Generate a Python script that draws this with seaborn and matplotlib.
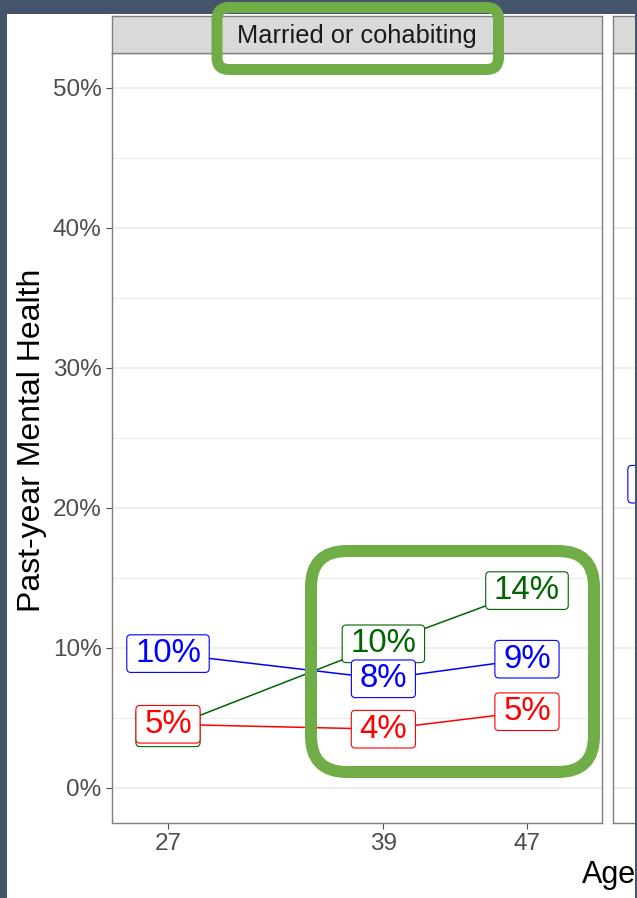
import matplotlib
matplotlib.use("Agg")
import matplotlib.pyplot as plt
from matplotlib.patches import FancyBboxPatch, Rectangle, BoxStyle
from matplotlib.transforms import IdentityTransform
import seaborn as sns
import pandas as pd

# ---------------- data ----------------
ages = [27, 39, 47]
blue_vals = [9.6, 7.8, 9.2]
red_vals = [4.55, 4.2, 5.45]
green_vals = [4.3, 10.3, 14.1]
panel2_ages = [27]
panel2_blue = [21.7]
y_ticks = [0, 10, 20, 30, 40, 50]
panel_titles = ["Married or cohabiting", ""]

series_colors = {"blue": "#0000ff", "red": "#ff0000", "green": "#006400"}

df1 = pd.DataFrame({
    "age": ages * 3,
    "pct": blue_vals + red_vals + green_vals,
    "series": ["blue"] * 3 + ["red"] * 3 + ["green"] * 3,
})
df2 = pd.DataFrame({"age": panel2_ages, "pct": panel2_blue, "series": ["blue"]})

sns.set_style("white")
plt.rcParams["font.family"] = ["Liberation Sans", "DejaVu Sans"]

W, H = 637, 898
DARK = "#44546a"
fig = plt.figure(figsize=(W / 100, H / 100), dpi=100)
fig.patch.set_facecolor(DARK)

# white slide area
fig.add_artist(Rectangle((7 / W, 0), (635 - 7) / W, (H - 14) / H,
                         transform=fig.transFigure, facecolor="white",
                         edgecolor="none", zorder=0))

BORDER = "#7f7f7f"


def label_style(padx, pady, r):
    base = BoxStyle.Round(pad=0, rounding_size=r)

    def f(x0, y0, width, height, mutation_size):
        px = padx * mutation_size
        py = pady * mutation_size
        return base(x0 - px, y0 - py, width + 2 * px, height + 2 * py, mutation_size)
    return f


def make_panel(left_px, data, title, show_xlabels=True):
    ax = fig.add_axes([left_px / W, (H - 823) / H, 490 / W, 770 / H])
    ax.set_xlim(23.88, 51.18)
    ax.set_ylim(-2.5, 52.5)
    for y in range(0, 55, 5):
        ax.axhline(y, color="#ebebeb", lw=1.2 if y % 10 == 0 else 0.7, zorder=0)
    sns.lineplot(data=data, x="age", y="pct", hue="series", palette=series_colors,
                 ax=ax, legend=False, linewidth=1.1, sort=True, zorder=2)
    order = ["green", "blue", "red"]
    for i, s in enumerate(order):
        sub = data[data["series"] == s]
        for a, v in zip(sub["age"], sub["pct"]):
            ax.text(a, v, f"{round(v):.0f}%", color=series_colors[s], fontsize=23.8,
                    ha="center", va="center", zorder=3 + i,
                    bbox=dict(boxstyle=label_style(0.25, 0.10, 0.12), facecolor="white",
                              edgecolor=series_colors[s], linewidth=0.8))
    ax.set_xticks(ages)
    ax.set_xticklabels([str(a) for a in ages] if show_xlabels else [])
    ax.set_yticks(y_ticks)
    ax.set_yticklabels([f"{t}%" for t in y_ticks])
    ax.tick_params(axis="both", which="major", length=4, width=0.8, color="#4d4d4d",
                   labelsize=17.5, labelcolor="#4d4d4d", pad=3.5, left=True, bottom=True)
    ax.set_xlabel("")
    ax.set_ylabel("")
    for sp in ax.spines.values():
        sp.set_color(BORDER)
        sp.set_linewidth(1.0)
        sp.set_visible(True)
    # strip
    sax = fig.add_axes([left_px / W, (H - 53) / H, 490 / W, 37 / H])
    sax.set_facecolor("#d9d9d9")
    sax.set_xticks([])
    sax.set_yticks([])
    for sp in sax.spines.values():
        sp.set_color(BORDER)
        sp.set_linewidth(1.0)
    sax.text(0.5, 0.47, title, transform=sax.transAxes, ha="center", va="center",
             fontsize=18.3, color="#1a1a1a")
    return ax


ax1 = make_panel(112, df1, panel_titles[0])
ax2 = make_panel(613, df2, panel_titles[1], show_xlabels=False)
ax2.set_yticklabels([])
ax2.tick_params(axis="y", length=0)

# axis titles
fig.text(32.5 / W, 1 - 440 / H, "Past-year Mental Health", rotation=90,
         ha="center", va="center", fontsize=23, color="black")
fig.text(582 / W, 1 - 883 / H, "Age", ha="left", va="baseline",
         fontsize=22, color="black")

# right dark slide edge on top
fig.add_artist(Rectangle((635 / W, 0), 2 / W, 1, transform=fig.transFigure,
                         facecolor=DARK, edgecolor="none", zorder=20))

# green highlight boxes (pixel coordinates, y from top)
GREEN = "#70ad47"


def hl_box(x0, y0, x1, y1, r, lw_px):
    p = FancyBboxPatch((x0, H - y1), x1 - x0, y1 - y0,
                       boxstyle=f"round,pad=0,rounding_size={r}",
                       transform=IdentityTransform(), facecolor="none",
                       edgecolor=GREEN, linewidth=lw_px * 72 / 100, zorder=10)
    fig.add_artist(p)


hl_box(217, 7.5, 498.5, 69.5, 12, 11)
hl_box(311, 551, 594, 772, 36, 12)

fig.savefig("out.png", dpi=100, facecolor=fig.get_facecolor())
